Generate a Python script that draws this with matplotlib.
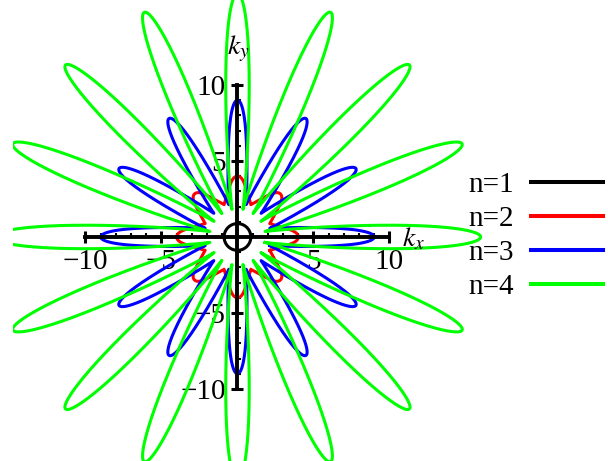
import numpy as np
import matplotlib
matplotlib.use("Agg")
import matplotlib.pyplot as plt
from matplotlib.lines import Line2D

plt.rcParams["font.family"] = ["Liberation Serif", "DejaVu Serif"]
plt.rcParams["mathtext.fontset"] = "stix"

# one closed curve per order n
labels = ["n=1", "n=2", "n=3", "n=4"]
colors = ["#000000", "#ff0000", "#0000ff", "#00ff00"]
n_petals = [0, 8, 12, 16]
tip_radius = [0.88, 4.0, 9.0, 16.0]
inner_radius = [0.88, 2.3, 2.2, 1.85]
petal_width = [0.0, 0.4, 0.5, 0.72]

tick_major = [-10, -5, 5, 10]
tick_minor = list(range(-10, 11))


def petal_curve(count, r_tip, r_in, w_max, npts=200):
    """Star-shaped closed curve: `count` petals reaching r_tip, joined at r_in."""
    if count == 0:
        th = np.linspace(0, 2 * np.pi, 400)
        return r_tip * np.cos(th), r_tip * np.sin(th)
    sigma = np.pi / count
    s = np.linspace(0, 1, npts)
    t = 0.5 - 0.5 * np.cos(np.pi * s)
    bump = np.sqrt(t ** 1.86 * (1 - t))
    bump /= bump.max()
    w = r_in * np.sin(sigma) * (1 - t) ** 2 + w_max * bump
    r = r_in + (r_tip - r_in) * t
    phi = np.arcsin(np.clip(w / r, 0, 1))
    xs, ys = [], []
    for k in range(count):
        th0 = 2 * np.pi * k / count
        ang = np.concatenate([th0 - phi, (th0 + phi)[::-1]])
        rad = np.concatenate([r, r[::-1]])
        xs.append(rad * np.cos(ang))
        ys.append(rad * np.sin(ang))
    x = np.concatenate(xs + [xs[0][:1]])
    y = np.concatenate(ys + [ys[0][:1]])
    return x, y


fig = plt.figure(figsize=(6.08, 4.61), dpi=100)
ax = fig.add_axes([13 / 608, 0, 595 / 608, 1])
ax.set_xlim(-14.77, 24.38)
ax.set_ylim(-14.74, 15.59)

handles = []
for i, lab in enumerate(labels):
    x, y = petal_curve(n_petals[i], tip_radius[i], inner_radius[i], petal_width[i])
    ax.plot(x, y, color=colors[i], lw=2.2, zorder=2 + 0.1 * i,
            solid_joinstyle="round")
    handles.append(Line2D([], [], color=colors[i], lw=2.9, label=lab))

# axes through the origin
for side in ("top", "right"):
    ax.spines[side].set_visible(False)
for side in ("left", "bottom"):
    ax.spines[side].set_position(("data", 0))
    ax.spines[side].set_bounds(-10, 10)
    ax.spines[side].set_linewidth(2.8)
    ax.spines[side].set_zorder(5)

ax.set_xticks(tick_major)
ax.set_yticks(tick_major)
ax.set_xticks(tick_minor, minor=True)
ax.set_yticks(tick_minor, minor=True)
ax.tick_params(which="major", direction="inout", length=9, width=2.2,
               labelsize=21, pad=4)
ax.tick_params(which="minor", direction="in", length=3, width=1.5)
ax.patch.set_visible(False)

ax.text(10.85, -0.6, r"$k_x$", fontsize=20, ha="left", va="baseline")
ax.text(-0.7, 12.0, r"$k_y$", fontsize=20, ha="left", va="baseline")

fig.legend(handles=handles, loc="center left",
           bbox_to_anchor=(468 / 608, 1 - 236 / 461),
           markerfirst=False, frameon=False, fontsize=21,
           handlelength=2.45, handletextpad=0.6, labelspacing=0.26,
           borderpad=0, borderaxespad=0)

fig.savefig("out.png", dpi=100)
